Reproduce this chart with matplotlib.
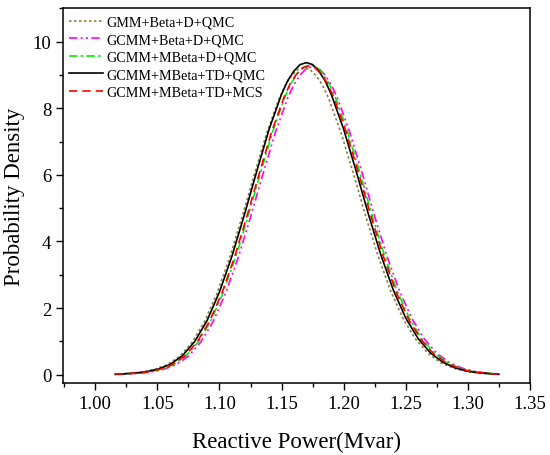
import matplotlib
matplotlib.use("Agg")
import matplotlib.pyplot as plt
from matplotlib.ticker import MultipleLocator

plt.rcParams['font.family'] = ['Liberation Serif', 'DejaVu Serif']

# reactive power grid (Mvar) and density
x_gmm = [1.016, 1.028, 1.038, 1.048, 1.058, 1.068, 1.078, 1.088, 1.098, 1.108, 1.118, 1.128,
         1.138, 1.148, 1.153, 1.158, 1.163, 1.168, 1.173, 1.178, 1.183, 1.188, 1.198, 1.208,
         1.218, 1.228, 1.238, 1.248, 1.258, 1.268, 1.278, 1.288, 1.298, 1.308, 1.323]
y_gmm = [0.01, 0.04, 0.08, 0.16, 0.30, 0.55, 0.97, 1.59, 2.44, 3.49, 4.71, 6.00,
         7.25, 8.29, 8.69, 8.97, 9.16, 9.22, 9.16, 8.97, 8.69, 8.29, 7.25, 6.02,
         4.73, 3.53, 2.50, 1.67, 1.06, 0.64, 0.36, 0.20, 0.10, 0.05, 0.01]

x_gcmm = [1.018, 1.035, 1.045, 1.055, 1.065, 1.075, 1.085, 1.095, 1.105, 1.115, 1.125, 1.135,
          1.145, 1.155, 1.160, 1.165, 1.170, 1.175, 1.180, 1.185, 1.190, 1.195, 1.205, 1.215,
          1.225, 1.235, 1.245, 1.255, 1.265, 1.275, 1.285, 1.295, 1.305, 1.315, 1.326]
y_gcmm = [0.01, 0.04, 0.08, 0.16, 0.30, 0.55, 0.98, 1.60, 2.45, 3.50, 4.73, 6.02,
          7.27, 8.31, 8.71, 9.00, 9.19, 9.25, 9.19, 9.00, 8.71, 8.31, 7.27, 6.04,
          4.75, 3.54, 2.51, 1.68, 1.07, 0.64, 0.37, 0.20, 0.10, 0.05, 0.01]

x_mbeta = [1.017, 1.033, 1.043, 1.053, 1.063, 1.073, 1.083, 1.093, 1.103, 1.113, 1.123, 1.133,
           1.143, 1.153, 1.158, 1.163, 1.168, 1.173, 1.178, 1.183, 1.188, 1.193, 1.203, 1.213,
           1.223, 1.233, 1.243, 1.253, 1.263, 1.273, 1.283, 1.293, 1.303, 1.313, 1.325]
y_mbeta = [0.01, 0.04, 0.08, 0.16, 0.30, 0.56, 0.98, 1.61, 2.46, 3.52, 4.75, 6.05,
           7.31, 8.36, 8.76, 9.05, 9.24, 9.30, 9.24, 9.05, 8.76, 8.36, 7.31, 6.07,
           4.77, 3.56, 2.52, 1.69, 1.07, 0.65, 0.37, 0.20, 0.10, 0.05, 0.01]

x_td = [1.016, 1.030, 1.040, 1.050, 1.060, 1.070, 1.080, 1.090, 1.100, 1.110, 1.120, 1.130,
        1.140, 1.150, 1.155, 1.160, 1.165, 1.170, 1.175, 1.180, 1.185, 1.190, 1.200, 1.210,
        1.220, 1.230, 1.240, 1.250, 1.260, 1.270, 1.280, 1.290, 1.300, 1.310, 1.325]
y_td = [0.01, 0.04, 0.08, 0.16, 0.30, 0.56, 0.99, 1.62, 2.48, 3.55, 4.79, 6.10,
        7.37, 8.42, 8.83, 9.12, 9.31, 9.37, 9.31, 9.12, 8.83, 8.42, 7.37, 6.12,
        4.81, 3.59, 2.54, 1.70, 1.08, 0.65, 0.37, 0.20, 0.10, 0.05, 0.01]

x_mcs = [1.016, 1.032, 1.042, 1.052, 1.062, 1.072, 1.082, 1.092, 1.102, 1.112, 1.122, 1.132,
         1.142, 1.152, 1.157, 1.162, 1.167, 1.172, 1.177, 1.182, 1.187, 1.192, 1.202, 1.212,
         1.222, 1.232, 1.242, 1.252, 1.262, 1.272, 1.282, 1.292, 1.302, 1.312, 1.324]
y_mcs = [0.01, 0.04, 0.08, 0.16, 0.30, 0.55, 0.98, 1.60, 2.45, 3.51, 4.74, 6.03,
         7.29, 8.33, 8.74, 9.02, 9.21, 9.27, 9.21, 9.02, 8.74, 8.33, 7.29, 6.05,
         4.76, 3.55, 2.51, 1.68, 1.07, 0.64, 0.37, 0.20, 0.10, 0.05, 0.01]

labels = ["GMM+Beta+D+QMC", "GCMM+Beta+D+QMC", "GCMM+MBeta+D+QMC",
          "GCMM+MBeta+TD+QMC", "GCMM+MBeta+TD+MCS"]

fig = plt.figure(figsize=(5.5, 4.56), dpi=100)
ax = fig.add_axes([0.1145, 0.158, 0.849, 0.8216])

lw = 1.2
ax.plot(x_gmm, y_gmm, linestyle=(0, (1.5, 1.5)), color="#8f7f3c", lw=lw, label=labels[0])
ax.plot(x_gcmm, y_gcmm, linestyle=(0, (5, 2, 1.2, 2, 1.2, 2)), color="#ff00ff", lw=lw, label=labels[1])
ax.plot(x_mbeta, y_mbeta, linestyle=(0, (5, 2, 1.5, 2)), color="#00ee00", lw=lw, label=labels[2])
ax.plot(x_td, y_td, '-', color="black", lw=lw, label=labels[3])
ax.plot(x_mcs, y_mcs, linestyle=(0, (5, 3)), color="#ff0000", lw=lw, label=labels[4])

ax.set_xlim(0.974, 1.35)
ax.set_ylim(-0.25, 11)
ax.xaxis.set_major_locator(MultipleLocator(0.05))
ax.xaxis.set_minor_locator(MultipleLocator(0.025))
ax.yaxis.set_major_locator(MultipleLocator(2))
ax.yaxis.set_minor_locator(MultipleLocator(1))
ax.xaxis.set_major_formatter(matplotlib.ticker.FormatStrFormatter('%.2f'))
ax.tick_params(which='both', direction='out', top=False, right=False, labelsize=13.5)
ax.tick_params(which='major', length=5, width=1)
ax.tick_params(which='minor', length=3, width=1)
for s in ax.spines.values():
    s.set_linewidth(1.1)

ax.set_xlabel("Reactive Power(Mvar)", fontsize=16.5, labelpad=14)
ax.set_ylabel("Probability Density", fontsize=16.5, labelpad=5)

ax.legend(loc='upper left', bbox_to_anchor=(0.0, 0.995), frameon=False, fontsize=10.2,
          handlelength=2.4, handletextpad=0.25, labelspacing=0.32, borderaxespad=0.0)

plt.savefig("out.png", dpi=100)
